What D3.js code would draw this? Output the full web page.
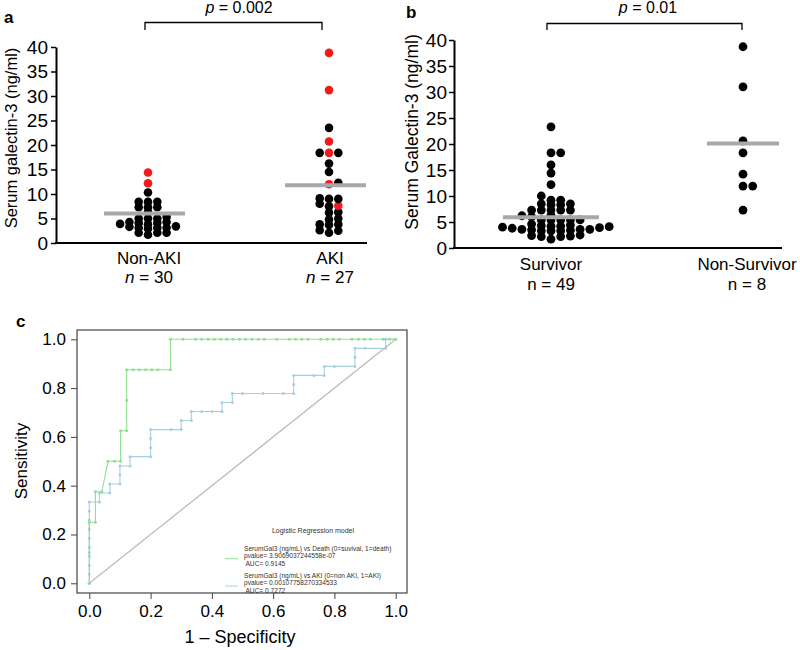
<!DOCTYPE html>
<html>
<head>
<meta charset="utf-8">
<script src="https://cdn.jsdelivr.net/npm/d3@7"></script>
<style>
    body { margin: 0; background: #fff; }
    svg { display: block; font-family: "Liberation Sans", Arial, sans-serif; }
</style>
</head>
<body>
<div id="chart"></div>
<script>
// ---- panel a : galectin-3 by AKI status (red = died)
const aGroups = ['Non-AKI', 'AKI']
const aCounts = [30, 27]
const aMeans = [6.0, 11.8]
const nonAkiAlive = [10.3, 8.4, 8.4, 8.4, 7.3, 7.3, 7.3, 6.3, 5.3, 5.0, 5.0, 5.0, 4.3, 4.3, 4.1, 4.1,
    3.9, 3.8, 3.4, 3.3, 3.1, 3.1, 3.1, 2.9, 2.1, 2.1, 2.1, 1.7]
const nonAkiDied = [14.4, 12.2]
const akiAlive = [23.5, 18.4, 18.4, 16.2, 14.5, 12.3, 9.0, 7.5, 6.2, 4.8, 3.7, 2.1, 9.1, 8.0, 3.8, 2.5,
    9.0, 6.3, 5.0, 3.8, 2.6]
const akiDied = [38.8, 31.2, 20.7, 18.4, 12.0, 7.6]

// ---- panel b : galectin-3 by outcome
const bGroups = ['Survivor', 'Non-Survivor']
const bCounts = [49, 8]
const bMeans = [5.9, 20.1]
const survivor = [3.3, 3.3, 3.3, 3.4, 3.5, 3.6,
    8.5, 7.3, 5.4, 3.6, 2.2,
    18.3, 9.2, 8.3, 7.3, 6.3, 5.4, 3.6, 2.2,
    23.3, 16.0, 14.4, 12.2, 10.0, 7.3, 6.0, 5.4, 4.0, 1.7,
    18.3, 9.2, 8.3, 7.3, 6.2, 5.4, 3.8, 2.3,
    8.5, 7.3, 5.4, 3.9, 2.4,
    4.1, 2.5,
    4.2, 4.2, 4.3, 4.4, 4.6]
const nonSurvivor = [38.7, 31.0, 20.6, 18.3, 14.2, 11.9, 11.9, 7.3]
const galTicks = [0, 5, 10, 15, 20, 25, 30, 35, 40]

// ---- panel c : ROC curves, [1 - specificity, sensitivity]
const rocTicks = [0, 0.2, 0.4, 0.6, 0.8, 1.0]
const rocDeath = [[0, 0], [0, 0.125], [0, 0.25], [0.02, 0.25], [0.02, 0.375], [0.041, 0.375],
    [0.061, 0.5], [0.082, 0.5], [0.102, 0.5], [0.102, 0.625], [0.122, 0.625], [0.122, 0.75],
    [0.122, 0.875], [0.143, 0.875], [0.163, 0.875], [0.184, 0.875], [0.204, 0.875], [0.224, 0.875],
    [0.265, 0.875], [0.265, 1], [0.306, 1], [0.347, 1], [0.367, 1], [0.388, 1], [0.408, 1],
    [0.429, 1], [0.449, 1], [0.469, 1], [0.49, 1], [0.51, 1], [0.531, 1], [0.551, 1], [0.571, 1],
    [0.612, 1], [0.653, 1], [0.673, 1], [0.694, 1], [0.714, 1], [0.755, 1], [0.776, 1], [0.796, 1],
    [0.816, 1], [0.857, 1], [0.878, 1], [0.898, 1], [0.918, 1], [0.959, 1], [0.98, 1], [1, 1]]
const rocAki = [[0, 0], [0, 0.037], [0, 0.074], [0, 0.111], [0, 0.148], [0, 0.185], [0, 0.222],
    [0, 0.259], [0, 0.296], [0, 0.333], [0.033, 0.333], [0.033, 0.37], [0.067, 0.37], [0.067, 0.407],
    [0.1, 0.407], [0.1, 0.444], [0.1, 0.481], [0.133, 0.481], [0.133, 0.519], [0.2, 0.519],
    [0.2, 0.556], [0.2, 0.593], [0.2, 0.63], [0.267, 0.63], [0.3, 0.63], [0.3, 0.667], [0.333, 0.667],
    [0.333, 0.704], [0.367, 0.704], [0.4, 0.704], [0.433, 0.704], [0.433, 0.741], [0.467, 0.741],
    [0.467, 0.778], [0.5, 0.778], [0.567, 0.778], [0.633, 0.778], [0.667, 0.778], [0.667, 0.815],
    [0.667, 0.852], [0.733, 0.852], [0.767, 0.852], [0.767, 0.889], [0.8, 0.889], [0.867, 0.889],
    [0.867, 0.926], [0.867, 0.963], [0.9, 0.963], [0.967, 0.963], [0.967, 1], [1, 1]]
const legendTitle = 'Logistic Regression model'
const legendDeath = ['SerumGal3 (ng/mL) vs Death (0=suvival, 1=death)', 'pvalue= 3.9069037244558e-07', ' AUC= 0.9145']
const legendAki = ['SerumGal3 (ng/mL) vs AKI (0=non AKI, 1=AKI)', 'pvalue= 0.00107758270334533', ' AUC= 0.7272']

const svg = d3.select('#chart').append('svg')
    .attr('width', 800)
    .attr('height', 650)

// simple column swarm: points stack in columns, spill sideways when too close
function swarm(points, y, minGap) {
    const sorted = points.slice().sort((a, b) => a.v - b.v || b.red - a.red)
    const placed = []
    sorted.forEach(p => {
        p.y = y(p.v)
        let k = 0, col = 0
        while (true) {
            col = k === 0 ? 0 : (k % 2 ? (k + 1) / 2 : -k / 2)
            if (!placed.some(q => q.col === col && Math.abs(q.y - p.y) < minGap)) break
            k++
        }
        p.col = col
        placed.push(p)
    })
    return placed
}

function styleLeftAxis(g, size) {
    g.select('.domain').attr('stroke', '#000').attr('stroke-width', 2)
    g.selectAll('.tick line').attr('stroke', '#000').attr('stroke-width', 1.5)
    g.selectAll('.tick text').attr('font-size', size).attr('fill', '#000')
}

function bracket(x1, x2, yTop, yLow, label, cx) {
    svg.append('path')
        .attr('d', `M${x1},${yLow}V${yTop}H${x2}V${yLow}`)
        .attr('fill', 'none').attr('stroke', '#000').attr('stroke-width', 1.3)
    const t = svg.append('text')
        .attr('x', cx).attr('y', 13).attr('text-anchor', 'middle').attr('font-size', 16)
    t.append('tspan').attr('font-style', 'italic').text('p')
    t.append('tspan').text(label)
}

// ================= panel a
const aY = d3.scaleLinear().domain([0, 40]).range([243, 47])
const aX = d3.scalePoint().domain(aGroups).range([148, 329])

svg.append('text').attr('x', 4).attr('y', 23).attr('font-weight', 'bold').attr('font-size', 17).text('a')

svg.append('g')
    .attr('transform', 'translate(56,0)')
    .call(d3.axisLeft(aY).tickValues(galTicks).tickSize(5).tickSizeOuter(0).tickPadding(3))
    .call(g => styleLeftAxis(g, 19))
svg.append('line').attr('x1', 55).attr('x2', 367).attr('y1', 243).attr('y2', 243)
    .attr('stroke', '#000').attr('stroke-width', 2)

svg.append('text')
    .attr('transform', 'translate(17,138) rotate(-90)')
    .attr('text-anchor', 'middle').attr('font-size', 16.5)
    .text('Serum galectin-3 (ng/ml)')

aGroups.forEach((g, i) => {
    svg.append('text').attr('x', aX(g) + 1).attr('y', 264).attr('text-anchor', 'middle')
        .attr('font-size', 17).text(g)
    const n = svg.append('text').attr('x', aX(g) + 1).attr('y', 283).attr('text-anchor', 'middle')
        .attr('font-size', 17)
    n.append('tspan').attr('font-style', 'italic').text('n')
    n.append('tspan').text(' = ' + aCounts[i])
})

const aSets = [
    nonAkiAlive.map(v => ({ v, red: 0 })).concat(nonAkiDied.map(v => ({ v, red: 1 }))),
    akiAlive.map(v => ({ v, red: 0 })).concat(akiDied.map(v => ({ v, red: 1 }))),
]
aSets.forEach((set, i) => {
    const cx = aX(aGroups[i])
    svg.append('g').selectAll('circle')
        .data(swarm(set, aY, 4.4))
        .join('circle')
        .attr('cx', d => cx + d.col * 9.3)
        .attr('cy', d => d.y)
        .attr('r', 4.3)
        .attr('fill', d => d.red ? '#f21a1a' : '#000')
    svg.append('line')
        .attr('x1', cx - 44).attr('x2', cx + 37)
        .attr('y1', aY(aMeans[i])).attr('y2', aY(aMeans[i]))
        .attr('stroke', '#a8a8a8').attr('stroke-width', 4)
})
bracket(145, 322, 22.5, 30, ' = 0.002', 239)

// ================= panel b
const bY = d3.scaleLinear().domain([0, 40]).range([248, 40])
const bX = d3.scalePoint().domain(bGroups).range([551, 743])

svg.append('text').attr('x', 406).attr('y', 18).attr('font-weight', 'bold').attr('font-size', 17).text('b')

svg.append('g')
    .attr('transform', 'translate(454,0)')
    .call(d3.axisLeft(bY).tickValues(galTicks).tickSize(5).tickSizeOuter(0).tickPadding(2))
    .call(g => styleLeftAxis(g, 19))
svg.append('line').attr('x1', 453).attr('x2', 782).attr('y1', 248).attr('y2', 248)
    .attr('stroke', '#000').attr('stroke-width', 2)

svg.append('text')
    .attr('transform', 'translate(418,132) rotate(-90)')
    .attr('text-anchor', 'middle').attr('font-size', 17.5)
    .text('Serum Galectin-3 (ng/ml)')

bGroups.forEach((g, i) => {
    svg.append('text').attr('x', bX(g) + (i ? 4 : 0)).attr('y', 270).attr('text-anchor', 'middle')
        .attr('font-size', 17).text(g)
    svg.append('text').attr('x', bX(g) + (i ? 4 : 0)).attr('y', 290).attr('text-anchor', 'middle')
        .attr('font-size', 17).text('n = ' + bCounts[i])
})

const bSets = [survivor, nonSurvivor].map(s => s.map(v => ({ v, red: 0 })))
const bHalf = [[48, 48], [36, 36]]
bSets.forEach((set, i) => {
    const cx = bX(bGroups[i])
    svg.append('g').selectAll('circle')
        .data(swarm(set, bY, 4.6))
        .join('circle')
        .attr('cx', d => cx + d.col * 9.7)
        .attr('cy', d => d.y)
        .attr('r', 4.4)
        .attr('fill', '#000')
    svg.append('line')
        .attr('x1', cx - bHalf[i][0]).attr('x2', cx + bHalf[i][1])
        .attr('y1', bY(bMeans[i])).attr('y2', bY(bMeans[i]))
        .attr('stroke', '#a8a8a8').attr('stroke-width', 4)
})
bracket(547, 742, 23.5, 30, ' = 0.01', 648)

// ================= panel c
const cX = d3.scaleLinear().domain([0, 1]).range([89.3, 395.7])
const cY = d3.scaleLinear().domain([0, 1]).range([583.3, 339.3])

svg.append('text').attr('x', 16).attr('y', 327).attr('font-weight', 'bold').attr('font-size', 17).text('c')

svg.append('rect')
    .attr('x', 77).attr('y', 330).attr('width', 330).attr('height', 263)
    .attr('fill', 'none').attr('stroke', '#444').attr('stroke-width', 1.2)

svg.append('g')
    .attr('transform', 'translate(0,593)')
    .call(d3.axisBottom(cX).tickValues(rocTicks).tickFormat(d3.format('.1f')).tickSize(6).tickPadding(6))
    .call(g => {
        g.select('.domain').remove()
        g.selectAll('.tick line').attr('stroke', '#444')
        g.selectAll('.tick text').attr('font-size', 17).attr('fill', '#000')
    })
svg.append('g')
    .attr('transform', 'translate(77,0)')
    .call(d3.axisLeft(cY).tickValues(rocTicks).tickFormat(d3.format('.1f')).tickSize(6).tickPadding(5))
    .call(g => {
        g.select('.domain').remove()
        g.selectAll('.tick line').attr('stroke', '#444')
        g.selectAll('.tick text').attr('font-size', 17).attr('fill', '#000')
    })

svg.append('text')
    .attr('transform', 'translate(27,461) rotate(-90)')
    .attr('text-anchor', 'middle').attr('font-size', 17)
    .text('Sensitivity')
svg.append('text')
    .attr('x', 240).attr('y', 643).attr('text-anchor', 'middle').attr('font-size', 18)
    .text('1 \u2013 Specificity')

svg.append('line')
    .attr('x1', cX(0)).attr('y1', cY(0)).attr('x2', cX(1)).attr('y2', cY(1))
    .attr('stroke', '#bbbbbb').attr('stroke-width', 1.3)

const rocLine = d3.line().x(d => cX(d[0])).y(d => cY(d[1]))
const rocSeries = [
    { pts: rocAki, color: '#a6d0e2' },
    { pts: rocDeath, color: '#8fe08f' },
]
rocSeries.forEach(s => {
    svg.append('path').attr('d', rocLine(s.pts))
        .attr('fill', 'none').attr('stroke', s.color).attr('stroke-width', 1.1)
    svg.append('g').selectAll('circle')
        .data(s.pts)
        .join('circle')
        .attr('cx', d => cX(d[0]))
        .attr('cy', d => cY(d[1]))
        .attr('r', 1.5)
        .attr('fill', s.color)
})

// legend
svg.append('text').attr('x', 313).attr('y', 533).attr('text-anchor', 'middle')
    .attr('font-size', 7).attr('fill', '#333').text(legendTitle)
const legendBlocks = [
    { lines: legendDeath, color: '#8fe08f', top: 550.5, ly: 558.7 },
    { lines: legendAki, color: '#a6d0e2', top: 577.5, ly: 586 },
]
legendBlocks.forEach(b => {
    svg.append('line').attr('x1', 225).attr('x2', 238).attr('y1', b.ly).attr('y2', b.ly)
        .attr('stroke', b.color).attr('stroke-width', 1)
    b.lines.forEach((t, j) => {
        svg.append('text').attr('x', 244).attr('y', b.top + j * 7.5)
            .attr('font-size', 6.6).attr('fill', '#333')
            .attr('xml:space', 'preserve').style('white-space', 'pre')
            .text(t)
    })
})
</script>
</body>
</html>
